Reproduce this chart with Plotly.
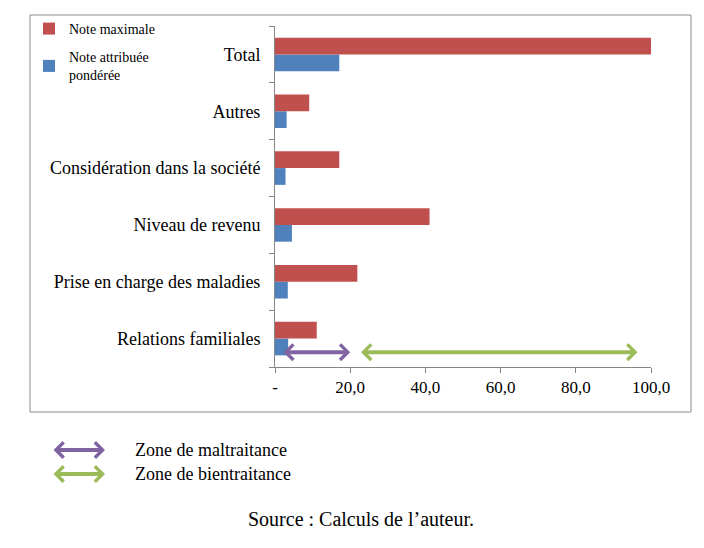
import plotly.graph_objects as go

categories = ["Relations familiales", "Prise en charge des maladies", "Niveau de revenu",
              "Considération dans la société", "Autres", "Total"]
note_maximale = [11.1, 21.9, 41.1, 17.1, 9.1, 100.0]
note_ponderee = [3.5, 3.4, 4.5, 2.8, 3.1, 17.1]
x_tickvals = [0, 20, 40, 60, 80, 100]
x_ticktext = ["-", "20,0", "40,0", "60,0", "80,0", "100,0"]
zone_maltraitance = [1.8, 20.0]
zone_bientraitance = [22.5, 96.4]

W, H = 704, 548
L, R, T, B = 275, 651, 26, 367

def px_x(p):
    return (p - L) / (R - L)

def px_y(p):
    return (B - p) / (B - T)

RED = "#C0504D"
BLUE = "#4F81BD"
PURPLE = "#8064A2"
GREEN = "#9BBB59"
SERIF = "Liberation Serif, Times New Roman, serif"

fig = go.Figure()
fig.add_trace(go.Bar(y=categories, x=note_ponderee, orientation="h", name="Note attribuée<br>pondérée",
                     marker=dict(color=BLUE, line=dict(width=0)), legendrank=2, legendgroup="b"))
fig.add_trace(go.Bar(y=categories, x=note_maximale, orientation="h", name="Note maximale",
                     marker=dict(color=RED, line=dict(width=0)), legendrank=1, legendgroup="a"))

shapes = [dict(type="rect", xref="paper", yref="paper",
               x0=px_x(30), x1=px_x(691), y0=px_y(412), y1=px_y(15),
               line=dict(color="#8c8c8c", width=1), fillcolor="rgba(0,0,0,0)", layer="below")]

annotations = []
arrow_y = -0.24
AH, AS, AW = 4, 0.75, 4
for rng, col in [(zone_maltraitance, PURPLE), (zone_bientraitance, GREEN)]:
    annotations.append(dict(x=rng[1], y=arrow_y, ax=rng[0], ay=arrow_y, xref="x", yref="y",
                            axref="x", ayref="y", text="", showarrow=True, arrowside="end+start",
                            arrowhead=AH, arrowsize=AS, arrowwidth=AW, arrowcolor=col))

# bottom legend for arrows
for py, col, label in [(450, PURPLE, "Zone de maltraitance"), (474, GREEN, "Zone de bientraitance")]:
    annotations.append(dict(x=px_x(105), y=px_y(py), ax=-53, ay=0, xref="paper", yref="paper",
                            text="", showarrow=True, arrowside="end+start", arrowhead=AH,
                            arrowsize=AS, arrowwidth=AW, arrowcolor=col))
    annotations.append(dict(x=px_x(133), y=px_y(py), xref="paper", yref="paper", text=label,
                            showarrow=False, xanchor="left", yanchor="middle",
                            font=dict(family=SERIF, size=18, color="black")))

annotations.append(dict(x=px_x(361), y=px_y(519), xref="paper", yref="paper",
                        text="Source : Calculs de l’auteur.", showarrow=False,
                        xanchor="center", yanchor="middle",
                        font=dict(family=SERIF, size=20, color="black")))

fig.update_layout(
    width=W, height=H,
    margin=dict(l=L, r=W - R, t=T, b=H - B, pad=0, autoexpand=False),
    paper_bgcolor="white", plot_bgcolor="white",
    barmode="group", bargap=0.41, bargroupgap=0,
    showlegend=True,
    legend=dict(xref="container", yref="container", x=29 / W, y=1 - 13 / H,
                xanchor="left", yanchor="top", traceorder="grouped",
                font=dict(family=SERIF, size=14, color="black"),
                bgcolor="rgba(0,0,0,0)", tracegroupgap=7, itemwidth=30,
                itemclick=False),
    xaxis=dict(range=[0, 100], tickvals=x_tickvals, ticktext=x_ticktext,
               showgrid=False, zeroline=False, showline=True, linecolor="#868686", linewidth=1,
               ticks="outside", ticklen=5, tickcolor="#868686",
               tickfont=dict(family=SERIF, size=17, color="black")),
    yaxis=dict(type="category", categoryorder="array", categoryarray=categories,
               showgrid=False, zeroline=False, showline=True, linecolor="#868686", linewidth=1,
               ticks="outside", ticklen=5, tickcolor="#868686", tickson="boundaries",
               ticklabelstandoff=10,
               tickfont=dict(family=SERIF, size=18, color="black")),
    shapes=shapes, annotations=annotations,
)

fig.write_html("out.html", config={"displayModeBar": False},
               post_script="document.body.style.margin='0';document.body.style.overflow='hidden';")
